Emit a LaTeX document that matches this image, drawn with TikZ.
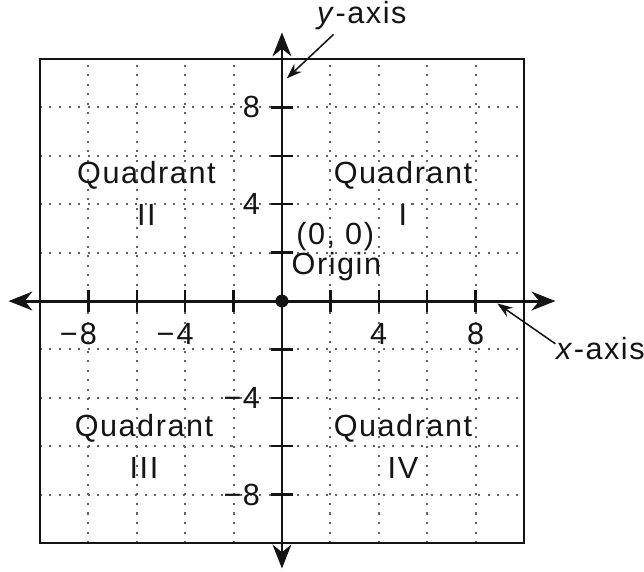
\documentclass[tikz,border=0pt]{standalone}
\usepackage{fontspec}
\setmainfont{Liberation Sans}[LetterSpace=5]
\usetikzlibrary{arrows.meta}
\definecolor{ink}{RGB}{20,20,20}
\definecolor{gridink}{RGB}{100,100,100}

\begin{document}
\begin{tikzpicture}[
    x=0.25cm, y=0.25cm,
    every node/.style={font=\fontsize{9}{12.4}\selectfont, text=ink},
    gridline/.style={gridink, line width=0.6pt, dash pattern=on 0.6pt off 2.2pt},
    frameline/.style={ink, line width=0.6pt},
    axisline/.style={
        ink,
        line width=0.85pt,
        {Stealth[length=7pt,width=5.5pt,inset=2.2pt]}-{Stealth[length=7pt,width=5.5pt,inset=2.2pt]}
    },
    tickline/.style={ink, line width=0.7pt},
    ticklabel/.style={inner sep=0pt},
    quadlabel/.style={align=center, inner sep=0pt},
    pointer/.style={ink, line width=0.45pt, -{Stealth[length=4.5pt,width=3.2pt]}}
]
\useasboundingbox (-11.65,-11.16) rectangle (14.96,12.44);
\draw[gridline, step=2] (-10,-10) grid (10,10);
\draw[frameline] (-10,-10) rectangle (10,10);

\coordinate (xmin) at (-11.3,0);
\coordinate (xmax) at (11.3,0);
\coordinate (ymin) at (0,-11.05);
\coordinate (ymax) at (0,11.1);
\draw[axisline] (xmin) -- (xmax);
\draw[axisline] (ymin) -- (ymax);
\foreach \t in {-8,-6,-4,-2,2,4,6,8} {
    \draw[tickline] (\t,-0.45) -- (\t,0.45);
    \draw[tickline] (-0.45,\t) -- (0.45,\t);
}
\node[circle, fill=ink, inner sep=0pt, minimum size=3.8pt] (origin) at (0,0) {};

\node[ticklabel] (xm8) at (-8,-1.36) {\llap{−\kern0.6pt}8};
\node[ticklabel] (xm4) at (-4,-1.36) {\llap{−\kern0.6pt}4};
\node[ticklabel] (xp4) at (4,-1.36) {4};
\node[ticklabel] (xp8) at (8,-1.36) {8};
\node[ticklabel, anchor=east] (yp8) at (-0.88,8) {8};
\node[ticklabel, anchor=east] (yp4) at (-0.88,4) {4};
\node[ticklabel, anchor=east] (ym4) at (-0.88,-4) {−4};
\node[ticklabel, anchor=east] (ym8) at (-0.88,-8) {−8};

\node[quadlabel] (quadI) at (5.0,4.45) {Quadrant\\I};
\node[quadlabel] (quadII) at (-5.6,4.45) {Quadrant\\II};
\node[quadlabel] (quadIII) at (-5.7,-6.0) {Quadrant\\III};
\node[quadlabel] (quadIV) at (5.0,-6.0) {Quadrant\\IV};

\node[anchor=base, inner sep=0pt] (zerolbl) at (2.2,2.35) {(0, 0)};
\node[anchor=base, inner sep=0pt] (originlbl) at (2.25,1.1) {Origin};

\node[anchor=base, inner sep=1pt] (ylab) at (3.3,11.45) {\textit{y}-axis};
\coordinate (ytip) at (0.2,9.2);
\draw[pointer] ([xshift=6pt]ylab.south west) -- (ytip);

\node[anchor=base west, inner sep=0pt] (xlab) at (11.3,-2.4) {\textit{x}-axis};
\coordinate (xtip) at (8.9,-0.1);
\draw[pointer] ([yshift=4.5pt]xlab.base west) -- (xtip);
\end{tikzpicture}
\end{document}
